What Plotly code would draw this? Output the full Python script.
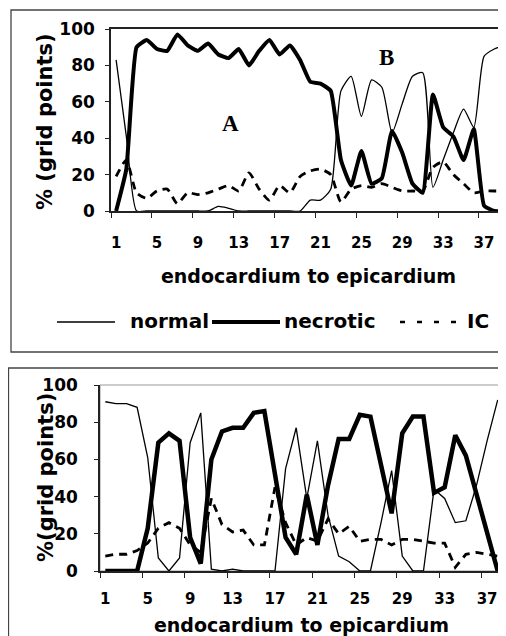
import plotly.graph_objects as go

# ---------------- data ----------------
cat_top = list(range(1, 40))
normal_top = [83, 41, 0, 0, 0, 0, 0, 0, 0, 0, 2.5, 1.5, 0, 0, 0, 0, 0, 0, 0, 6,
              6, 12, 66, 74, 52, 72, 68, 43, 59, 74, 76, 13, 28, 43, 56, 46, 85, 89, 91]
necrotic_top = [0, 23, 90, 94, 89, 88, 97, 91, 88, 92, 86, 84, 89, 80, 88, 94, 86, 91, 83, 71,
                70, 66, 28, 14, 33, 15, 18, 44, 32, 15, 10, 64, 46, 41, 28, 45, 3, 0, 0]
ic_top = [19, 28, 10, 7, 11, 12, 4, 10, 9, 10, 12, 14, 11, 21, 12, 6, 14, 10, 19, 22,
          23, 20, 5, 12, 14, 13, 15, 13, 11, 11, 11, 24, 27, 20, 15, 10, 11, 11, 11]

cat_bot = list(range(1, 39))
normal_bot = [91, 90, 90, 88, 61, 7, 0, 7, 69, 85, 1, 0, 1, 0, 0, 0, 0, 55, 77, 39,
              70, 30, 8, 5, 0, 0, 26, 54, 8, 0, 0, 44, 39, 26, 27, 46, 70, 92]
necrotic_bot = [0, 0, 0, 0, 23, 69, 74, 70, 18, 4, 60, 75, 77, 77, 85, 86, 52, 18, 9, 41,
                14, 46, 71, 71, 84, 83, 57, 31, 74, 83, 83, 42, 45, 73, 62, 41, 19, 0]
ic_bot = [8, 9, 9, 11, 15, 23, 26, 23, 14, 10, 39, 25, 21, 22, 14, 14, 45, 26, 14, 18,
          16, 28, 20, 24, 16, 17, 17, 14, 17, 17, 16, 15, 15, 2, 9, 10, 9, 8]

tick_labels_top = [1, 5, 9, 13, 17, 21, 25, 29, 33, 37]
tick_labels_bot = [1, 5, 9, 13, 17, 21, 25, 29, 33, 37]
y_ticks = [0, 20, 40, 60, 80, 100]
legend_names = ["normal", "necrotic", "IC"]

# ---------------- geometry helpers (page has an 8px body margin) ----------------
OFF = 8
W, H = 506 - OFF, 636 - OFF
FONT = "DejaVu Sans"


def fx(p):
    return (p - OFF) / W


def fy(p):
    return 1 - (p - OFF) / H


fig = go.Figure()

# top panel
fig.add_trace(go.Scatter(x=cat_top, y=normal_top, name=legend_names[0], mode="lines",
                         line=dict(color="black", width=1.3, shape="spline", smoothing=0.6),
                         xaxis="x", yaxis="y"))
fig.add_trace(go.Scatter(x=cat_top, y=necrotic_top, name=legend_names[1], mode="lines",
                         line=dict(color="black", width=4, shape="spline", smoothing=0.4),
                         xaxis="x", yaxis="y"))
fig.add_trace(go.Scatter(x=cat_top, y=ic_top, name=legend_names[2], mode="lines",
                         line=dict(color="black", width=2.8, dash="8px,6px", shape="spline", smoothing=0.6),
                         xaxis="x", yaxis="y"))

# bottom panel
fig.add_trace(go.Scatter(x=cat_bot, y=normal_bot, name=legend_names[0], mode="lines",
                         line=dict(color="black", width=1.3), xaxis="x2", yaxis="y2"))
fig.add_trace(go.Scatter(x=cat_bot, y=necrotic_bot, name=legend_names[1], mode="lines",
                         line=dict(color="black", width=4.5), xaxis="x2", yaxis="y2"))
fig.add_trace(go.Scatter(x=cat_bot, y=ic_bot, name=legend_names[2], mode="lines",
                         line=dict(color="black", width=2.8, dash="8px,6px"), xaxis="x2", yaxis="y2"))

axis_col = "#222"
bold = dict(family=FONT, color="black", weight="bold")

common_x = dict(tickmode="array", ticks="", tickfont=dict(size=15, **bold),
                showline=True, linecolor=axis_col, linewidth=1.5,
                showgrid=False, zeroline=False, automargin=False)
common_y = dict(range=[0, 100], tickmode="array", tickvals=y_ticks, ticks="outside", ticklen=4,
                tickwidth=1, tickcolor=axis_col, tickfont=dict(size=17, **bold),
                showline=True, linecolor=axis_col, linewidth=1.5,
                showgrid=False, zeroline=False, automargin=False)

fig.update_layout(
    width=W, height=H,
    margin=dict(l=0, r=0, t=0, b=0, autoexpand=False),
    paper_bgcolor="white", plot_bgcolor="white",
    font=dict(family=FONT, color="black"),
    showlegend=False,
    xaxis=dict(domain=[fx(111), 1], range=[0.5, 39.15], anchor="y",
               tickvals=tick_labels_top, ticktext=[str(v) for v in tick_labels_top],
               ticklabelstandoff=17, mirror=True,
               minor=dict(tickmode="array", tickvals=[v - 0.5 for v in tick_labels_top] + [40.5],
                          ticks="outside", ticklen=5, tickwidth=1, tickcolor=axis_col),
               title=dict(text="endocardium to epicardium", font=dict(size=19, **bold), standoff=19),
               **common_x),
    yaxis=dict(domain=[fy(211), fy(29)], anchor="x", ticklabelstandoff=7, **common_y),
    xaxis2=dict(domain=[fx(100), fx(503)], range=[0.5, 38.5], anchor="y2",
                tickvals=tick_labels_bot, ticktext=[str(v) for v in tick_labels_bot],
                ticklabelstandoff=13,
                minor=dict(tickmode="array", tickvals=[v - 0.5 for v in tick_labels_bot],
                           ticks="outside", ticklen=5, tickwidth=1, tickcolor=axis_col),
                title=dict(text="endocardium to epicardium", font=dict(size=19, **bold), standoff=17),
                **common_x),
    yaxis2=dict(domain=[fy(571), fy(385)], anchor="x2", ticklabelstandoff=13, **common_y),
)

# y-axis titles
fig.add_annotation(x=fx(45), y=fy(122), xref="paper", yref="paper", text="% (grid points)",
                   textangle=-90, showarrow=False, xanchor="center", yanchor="middle",
                   font=dict(size=21, **bold))
fig.add_annotation(x=fx(46), y=fy(478), xref="paper", yref="paper", text="%(grid points)",
                   textangle=-90, showarrow=False, xanchor="center", yanchor="middle",
                   font=dict(size=21, **bold))

# panel annotations A / B
fig.add_annotation(x=12.2, y=48, xref="x", yref="y", text="A", showarrow=False,
                   font=dict(family="Liberation Serif", size=23, color="black", weight="bold"))
fig.add_annotation(x=27.5, y=84.5, xref="x", yref="y", text="B", showarrow=False,
                   font=dict(family="Liberation Serif", size=23, color="black", weight="bold"))

# legend of the top panel (line samples + labels)
leg_y = fy(322)
legend_items = [
    (legend_names[0], 57, 115, 1.5, "solid", 128),
    (legend_names[1], 212, 280, 4, "solid", 282),
    (legend_names[2], 400, 463, 2.5, "5px,12px", 465),
]
shapes = []
for name, x0, x1, wdt, dsh, tx in legend_items:
    shapes.append(dict(type="line", xref="paper", yref="paper", x0=fx(x0), x1=fx(x1),
                       y0=leg_y, y1=leg_y, line=dict(color="black", width=wdt, dash=dsh)))
    fig.add_annotation(x=fx(tx), y=fy(321), xref="paper", yref="paper", text=name,
                       showarrow=False, xanchor="left", yanchor="middle",
                       font=dict(size=20, **bold))

# frames around both panels, bottom plot-area border
shapes += [
    dict(type="rect", xref="paper", yref="paper", x0=fx(11), x1=1.05, y0=fy(352), y1=fy(10),
         line=dict(color="#444", width=1.3)),
    dict(type="rect", xref="paper", yref="paper", x0=fx(8.5), x1=1.05, y0=-0.05, y1=fy(368),
         line=dict(color="#444", width=1.3)),
    dict(type="rect", xref="x2 domain", yref="y2 domain", x0=0, x1=1, y0=0, y1=1,
         line=dict(color="#999", width=1), layer="below"),
]
fig.update_layout(shapes=shapes)

fig.write_html("out.html")
